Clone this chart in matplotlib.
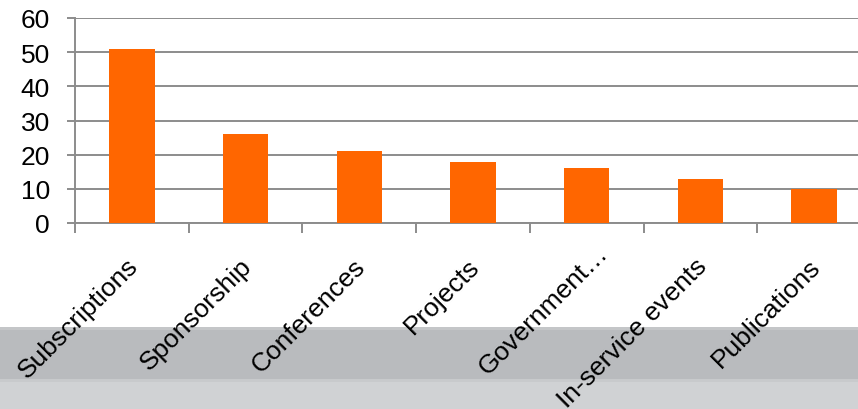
import matplotlib
matplotlib.use("Agg")
import matplotlib.pyplot as plt
from matplotlib.patches import Rectangle
from matplotlib.transforms import ScaledTranslation
import numpy as np

categories = ["Subscriptions", "Sponsorship", "Conferences", "Projects",
              "Government…", "In-service events", "Publications"]
values = [51, 26, 21, 18, 16, 13, 10]
yticks = [0, 10, 20, 30, 40, 50, 60]

plt.rcParams["font.family"] = ["Liberation Sans", "DejaVu Sans"]

fig = plt.figure(figsize=(8.58, 4.10), dpi=100)
fig.patch.set_facecolor("white")

# Footer bands behind the category labels
fig.patches.append(Rectangle((0, 30 / 410), 1, 52 / 410, transform=fig.transFigure,
                             facecolor="#b9bbbe", edgecolor="none", zorder=0))
fig.patches.append(Rectangle((0, 79 / 410), 1, 3 / 410, transform=fig.transFigure,
                             facecolor="#c4c6c8", edgecolor="none", zorder=0))
fig.patches.append(Rectangle((0, 0), 1, 30 / 410, transform=fig.transFigure,
                             facecolor="#d0d2d4", edgecolor="none", zorder=0))
fig.patches.append(Rectangle((0, 27 / 410), 1, 3 / 410, transform=fig.transFigure,
                             facecolor="#c8cacc", edgecolor="none", zorder=0))

ax = fig.add_axes([75 / 858, 186 / 410, 7 * 113.7 / 858, 205 / 410])
ax.set_facecolor("none")
ax.set_zorder(2)

x = np.arange(len(categories))
ax.bar(x, values, width=0.4, color="#ff6600", zorder=3)

ax.set_xlim(-0.5, len(categories) - 0.5)
ax.set_ylim(0, 60)
ax.set_yticks(yticks)
ax.set_yticklabels([str(v) for v in yticks], fontsize=19)
ax.yaxis.grid(True, color="#8c8c8c", linewidth=1.4, zorder=1)
ax.set_axisbelow(True)

ax.set_xticks(x)
ax.set_xticklabels(categories, fontsize=19, rotation=45, ha="right",
                   rotation_mode="anchor")
ax.set_xticks(np.arange(-0.5, len(categories), 1.0), minor=True)
ax.tick_params(axis="x", which="major", length=0, pad=14)
ax.tick_params(axis="x", which="minor", length=7, width=1.4, color="#8c8c8c")
ax.tick_params(axis="y", length=6, width=1.4, color="#8c8c8c", pad=12)

# nudge the slanted category labels down and to the left
shift = ScaledTranslation(-0.06, -0.11, fig.dpi_scale_trans)
# the truncated label sits further along its slant
trunc_shift = ScaledTranslation(0.15, 0.13, fig.dpi_scale_trans)
for lbl in ax.get_xticklabels():
    t = lbl.get_transform() + shift
    if lbl.get_text().endswith("…"):
        t = t + trunc_shift
    lbl.set_transform(t)

for side in ("top", "right"):
    ax.spines[side].set_visible(False)
for side in ("left", "bottom"):
    ax.spines[side].set_color("#8c8c8c")
    ax.spines[side].set_linewidth(1.4)

fig.savefig("out.png", dpi=100, facecolor=fig.get_facecolor())
